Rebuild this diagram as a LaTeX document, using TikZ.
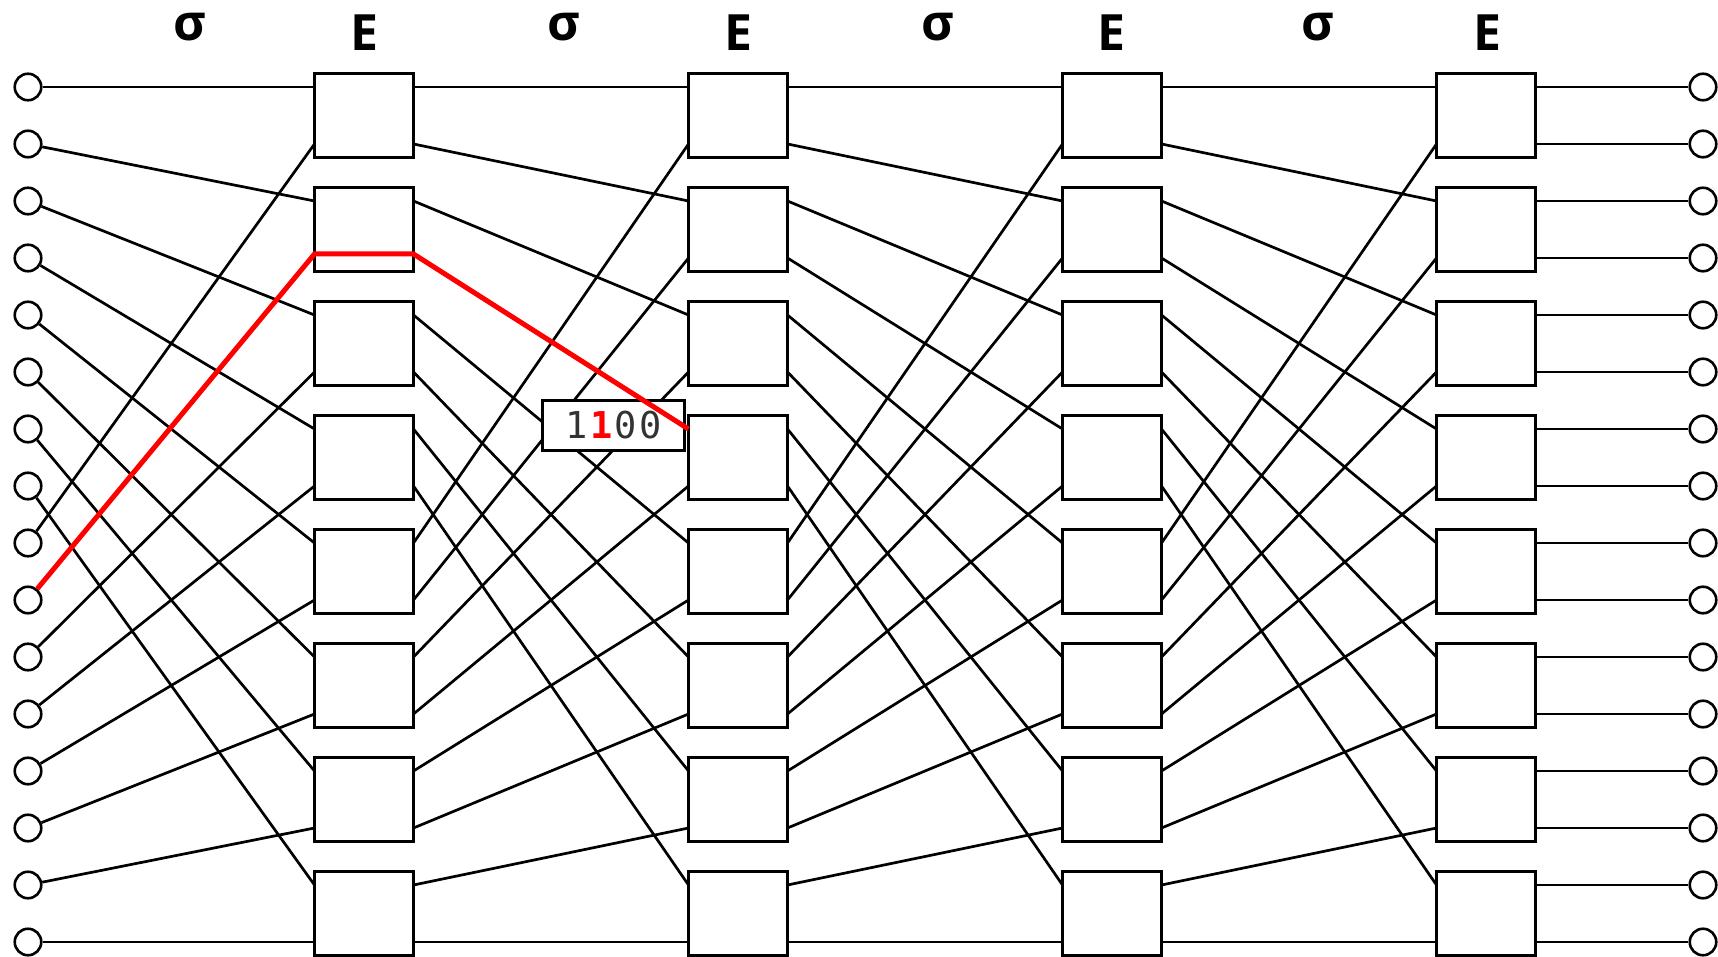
\documentclass[tikz,border=0pt]{standalone}
\usepackage{fontspec}
\newfontfamily\labfont{Open Sans}
\newfontfamily\digfont{DejaVu Sans Mono}
\begin{document}
\begin{tikzpicture}[x=1pt,y=-1pt,
  port/.style={circle,draw,line width=2.6pt,minimum size=26.5pt,inner sep=0pt},
  switchbox/.style={draw,line width=2.6pt,fill=white,minimum width=99pt,minimum height=84pt,inner sep=0pt},
  wire/.style={line width=2.7pt},
  redwire/.style={line width=5pt,draw=red},
  lab/.style={font=\labfont\bfseries\fontsize{50}{50}\selectfont,anchor=base,inner sep=0pt},
  tagbox/.style={draw,line width=2.6pt,fill=white,minimum width=142pt,minimum height=50pt,inner sep=0pt,font=\digfont\fontsize{37}{37}\selectfont,text=black!80}
]
\useasboundingbox (0,0) rectangle (1718,957);
% labels
\foreach \x [count=\n] in {190,564,938,1318} {
  \node[lab] (sig\n) at (\x,41) {σ};
}
\foreach \x [count=\n] in {364,738,1111,1487} {
  \node[lab] (E\n) at (\x,51) {E};
}
% terminals
\foreach \i in {0,...,15} {
  \pgfmathsetmacro\yy{87+57*\i}
  \node[port] (in\i) at (28,\yy) {};
  \node[port] (out\i) at (1703,\yy) {};
}
% switch columns
\foreach \c/\xc in {1/364,2/738,3/1112,4/1486} {
  \foreach \k in {0,...,7} {
    \pgfmathsetmacro\yc{115.5+114*\k}
    \node[switchbox] (b\c-\k) at (\xc,\yc) {};
  }
  \foreach \j in {0,...,15} {
    \pgfmathsetmacro\yy{87+57*\j}
    \coordinate (L\c-\j) at (\xc-49.5,\yy);
    \coordinate (R\c-\j) at (\xc+49.5,\yy);
  }
}
% perfect shuffle wires
\foreach \i in {0,...,15} {
  \pgfmathtruncatemacro\s{\i<8 ? 2*\i : 2*\i-15}
  \ifnum\i=9 \else \draw[wire] (in\i) -- (L1-\s); \fi
  \ifnum\i=3 \else \draw[wire] (R1-\i) -- (L2-\s); \fi
  \draw[wire] (R2-\i) -- (L3-\s);
  \draw[wire] (R3-\i) -- (L4-\s);
  \draw[wire] (R4-\i) -- (out\i);
}
% address tag
\node[tagbox] (tag) at (613.5,425.5) {\makebox[24.7pt]{1}\makebox[24.7pt]{\textcolor{red}{\textbf{1}}}\makebox[24.7pt]{0}\makebox[24.7pt]{0}};
% highlighted route
\coordinate (redA) at (314.5,254);
\coordinate (redB) at (413.5,254);
\draw[redwire] (in9) -- (redA) -- (redB) -- (L2-6);
\end{tikzpicture}
\end{document}
